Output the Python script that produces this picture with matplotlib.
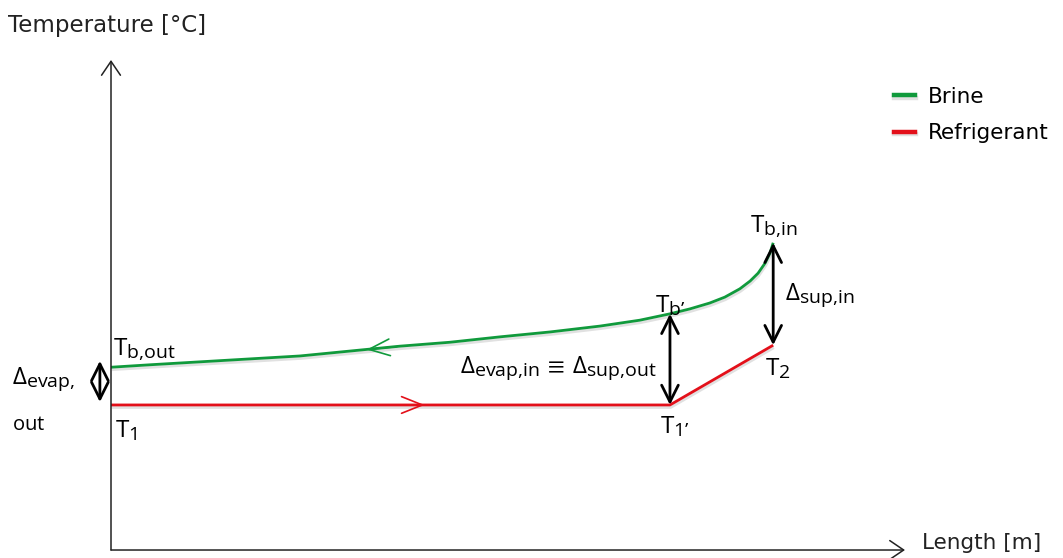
import matplotlib
matplotlib.use("Agg")
import matplotlib.pyplot as plt
import matplotlib._mathtext as mathtext_core
from matplotlib import patheffects as pe
from matplotlib.lines import Line2D

plt.rcParams['font.family'] = ['DejaVu Sans']
plt.rcParams['mathtext.fontset'] = 'custom'
plt.rcParams['mathtext.rm'] = 'Open Sans'
plt.rcParams['mathtext.it'] = 'Open Sans:italic'
plt.rcParams['mathtext.fallback'] = 'stix'
# larger subscripts for the T / Delta labels
mathtext_core.SHRINK_FACTOR = 0.8

# refrigerant: T1 -> T1' (evaporation) -> T2 (superheating)
ref_len = [0.0, 7.04, 8.34]
ref_temp = [2.96, 2.96, 4.18]

# brine: enters at T_b,in and leaves at T_b,out
brine_len = [0.0, 0.49, 1.12, 1.75, 2.38, 3.01, 3.64, 4.27, 4.90, 5.53, 6.16, 6.66, 7.04,
             7.29, 7.54, 7.73, 7.92, 8.05, 8.15, 8.24, 8.30, 8.34]
brine_temp = [3.73, 3.78, 3.84, 3.90, 3.96, 4.06, 4.16, 4.24, 4.35, 4.45, 4.57, 4.69, 4.82,
              4.92, 5.04, 5.16, 5.33, 5.49, 5.65, 5.86, 6.06, 6.27]
pinch = 12  # brine point opposite T1'

series_names = ['Brine', 'Refrigerant']
series_colors = ['#109a3c', '#e3101a']

# pinch arrow at the refrigerant inlet
evap_out_len = -0.14
evap_out_temp = [3.86, 3.02]

fig = plt.figure(figsize=(10.63, 5.58), dpi=100)
ax = fig.add_axes([0, 0, 1, 1])
ax.set_xlim(-1.398, 11.99)
ax.set_ylim(-0.163, 11.224)
ax.axis('off')

shadow = [pe.SimpleLineShadow(offset=(0.5, -1.8), shadow_color='#888888', alpha=0.25), pe.Normal()]

ax.plot(brine_len, brine_temp, color=series_colors[0], lw=2, solid_capstyle='butt',
        solid_joinstyle='round', path_effects=shadow)
ax.plot(ref_len, ref_temp, color=series_colors[1], lw=2, solid_capstyle='butt', path_effects=shadow)

# axis arrows
axis_arrow = dict(arrowstyle='->,head_length=0.5,head_width=0.34', lw=1.1, color='#222222',
                  shrinkA=0, shrinkB=0, mutation_scale=20)
ax.annotate('', xy=(0, 10.0), xytext=(0, 0), arrowprops=axis_arrow)
ax.annotate('', xy=(10.0, 0), xytext=(0, 0), arrowprops=axis_arrow)
ax.text(-1.297, 10.71, 'Temperature [°C]', fontsize=16.5, ha='left', va='center', color='#222222')
ax.text(10.21, 0.14, 'Length [m]', fontsize=15.5, ha='left', va='center', color='#222222')

# flow direction chevrons
ax.annotate('', xy=(3.95, ref_temp[0]), xytext=(3.6, ref_temp[0]),
            arrowprops=dict(arrowstyle='->,head_length=0.75,head_width=0.3', lw=1.2,
                            color=series_colors[1], shrinkA=0, shrinkB=0, mutation_scale=20))
ax.annotate('', xy=(3.22, 4.09), xytext=(3.6, 4.15),
            arrowprops=dict(arrowstyle='->,head_length=0.75,head_width=0.3', lw=1.2,
                            color=series_colors[0], shrinkA=0, shrinkB=0, mutation_scale=20))

# temperature differences
delta_arrow = dict(arrowstyle='<->,head_length=0.6,head_width=0.3', lw=2, color='black',
                   shrinkA=0, shrinkB=0, mutation_scale=20)
ax.annotate('', xy=(evap_out_len, evap_out_temp[0]), xytext=(evap_out_len, evap_out_temp[1]),
            arrowprops=delta_arrow)
ax.annotate('', xy=(brine_len[pinch], brine_temp[pinch]), xytext=(ref_len[1], ref_temp[1]),
            arrowprops=delta_arrow)
ax.annotate('', xy=(brine_len[-1], brine_temp[-1]), xytext=(ref_len[-1], ref_temp[-1]),
            arrowprops=delta_arrow)

lbl = dict(fontsize=17.5, ha='left', va='baseline', color='black')
ax.text(0.03, 3.98, r'$\mathrm{T_{b{,}out}}$', **lbl)
ax.text(-1.247, 3.38, r'$\mathrm{\Delta_{evap{,}}}$', **lbl)
ax.text(-1.247, 2.44, r'$\mathrm{out}$', fontsize=14.5, ha='left', va='baseline')
ax.text(0.05, 2.31, r'$\mathrm{T_1}$', **lbl)
ax.text(6.92, 2.39, r'$\mathrm{T_{1’}}$', **lbl)
ax.text(6.85, 4.86, r'$\mathrm{T_{b’}}$', **lbl)
ax.text(4.40, 3.61, r'$\mathrm{\Delta_{evap{,}in}\,\equiv\,\Delta_{sup{,}out}}$', **lbl)
ax.text(8.05, 6.49, r'$\mathrm{T_{b{,}in}}$', **lbl)
ax.text(8.49, 5.10, r'$\mathrm{\Delta_{sup{,}in}}$', **lbl)
ax.text(8.24, 3.57, r'$\mathrm{T_2}$', **lbl)

handles = [Line2D([], [], color=c, lw=3.2, path_effects=shadow) for c in series_colors]
ax.legend(handles, series_names, loc='upper left', bbox_to_anchor=(885 / 1063, 1 - 78 / 558),
          bbox_transform=fig.transFigure, frameon=False, fontsize=15.5,
          handlelength=1.0, handletextpad=0.6, labelspacing=0.78, borderaxespad=0)

fig.savefig('out.png', dpi=100)
